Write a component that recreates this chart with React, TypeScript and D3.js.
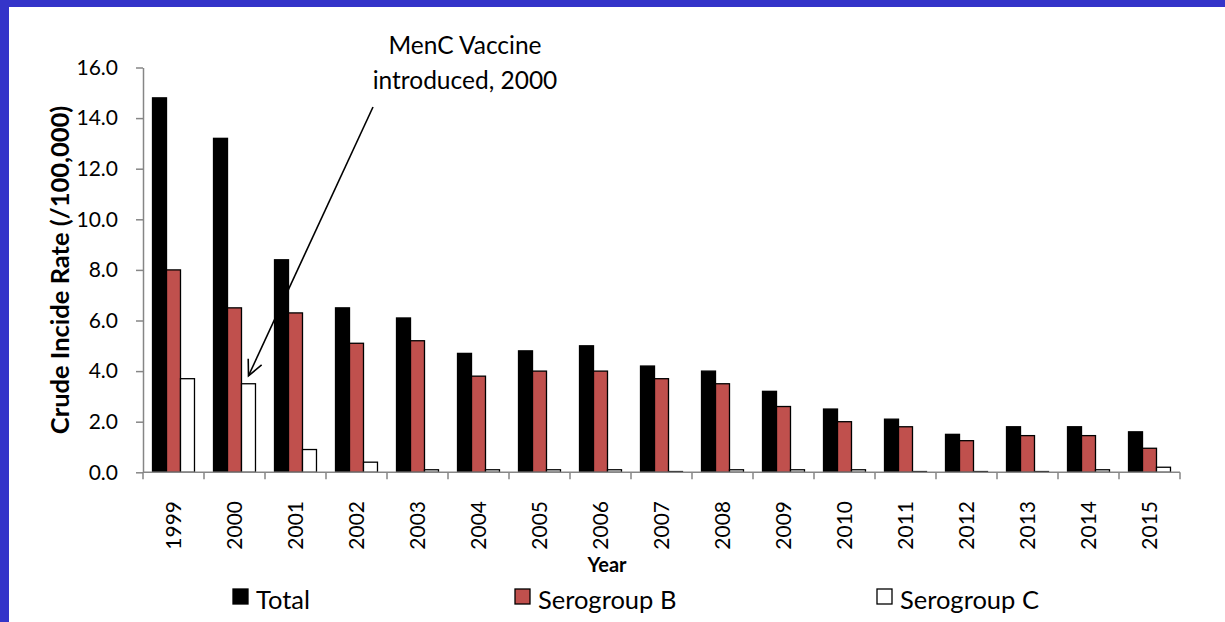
import React, { useEffect, useRef } from "react";
import * as d3 from "d3";

const years = ["1999", "2000", "2001", "2002", "2003", "2004", "2005", "2006", "2007", "2008", "2009", "2010", "2011", "2012", "2013", "2014", "2015"];
const seriesNames = ["Total", "Serogroup B", "Serogroup C"];
const totalRate = [14.8, 13.2, 8.4, 6.5, 6.1, 4.7, 4.8, 5.0, 4.2, 4.0, 3.2, 2.5, 2.1, 1.5, 1.8, 1.8, 1.6];
const serogroupB = [8.0, 6.5, 6.3, 5.1, 5.2, 3.8, 4.0, 4.0, 3.7, 3.5, 2.6, 2.0, 1.8, 1.25, 1.45, 1.45, 0.95];
const serogroupC = [3.7, 3.5, 0.9, 0.4, 0.1, 0.1, 0.1, 0.1, 0.03, 0.1, 0.1, 0.1, 0.03, 0.03, 0.03, 0.1, 0.2];
const yTicks = [0, 2, 4, 6, 8, 10, 12, 14, 16];
const colors = ["#000000", "#C0504D", "#FFFFFF"];

const W = 1225;
const H = 622;
const FONT = "Lato, 'Open Sans', sans-serif";

const App = () => {
  const svgRef = useRef<SVGSVGElement>(null);

  useEffect(() => {
    const svg = d3.select(svgRef.current);
    svg.selectAll("*").remove();

    // blue frame of the slide
    svg.append("rect").attr("width", W).attr("height", H).attr("fill", "#3434C9");
    svg.append("rect").attr("x", 9).attr("y", 7).attr("width", W - 9).attr("height", H - 7).attr("fill", "#fff");

    const left = 143, right = 1180, top = 67.5, bottom = 472.3;

    const x = d3.scaleBand().domain(years).range([left, right]).paddingInner(0).paddingOuter(0);
    const x1 = d3.scaleBand().domain(seriesNames).range([0, x.bandwidth()]).paddingInner(0).paddingOuter(0.68);
    const y = d3.scaleLinear().domain([0, 16]).range([bottom, top]);

    const rows = years.map((yr, i) => ({
      year: yr,
      values: [totalRate[i], serogroupB[i], serogroupC[i]],
    }));

    // bars
    const groups = svg
      .append("g")
      .selectAll("g")
      .data(rows)
      .enter()
      .append("g")
      .attr("transform", (d) => `translate(${x(d.year)},0)`);

    groups
      .selectAll("rect")
      .data((d) => d.values.map((v, k) => ({ v, k })))
      .enter()
      .append("rect")
      .attr("x", (d) => x1(seriesNames[d.k])!)
      .attr("width", x1.bandwidth())
      .attr("y", (d) => y(d.v))
      .attr("height", (d) => y(0) - y(d.v))
      .attr("fill", (d) => colors[d.k])
      .attr("stroke", "#000")
      .attr("stroke-width", 1.3);

    // y axis
    const yAxis = svg
      .append("g")
      .attr("transform", `translate(${left},0)`)
      .call(d3.axisLeft(y).tickValues(yTicks).tickFormat(d3.format(".1f")).tickSize(7).tickSizeOuter(0).tickPadding(18));
    yAxis.select(".domain").attr("stroke", "#868686").attr("stroke-width", 1.5);
    yAxis.selectAll(".tick line").attr("stroke", "#868686").attr("stroke-width", 1.5);
    yAxis.selectAll(".tick text").attr("font-family", FONT).attr("font-size", 21).attr("fill", "#000");

    // x axis
    const xAxis = svg.append("g");
    xAxis
      .append("line")
      .attr("x1", left)
      .attr("x2", right)
      .attr("y1", bottom)
      .attr("y2", bottom)
      .attr("stroke", "#868686")
      .attr("stroke-width", 1.5);
    const bounds = [...years.map((yr) => x(yr)!), right];
    xAxis
      .selectAll(".xt")
      .data(bounds)
      .enter()
      .append("line")
      .attr("x1", (d) => d)
      .attr("x2", (d) => d)
      .attr("y1", bottom)
      .attr("y2", bottom + 7)
      .attr("stroke", "#868686")
      .attr("stroke-width", 1.5);
    xAxis
      .selectAll(".xl")
      .data(years)
      .enter()
      .append("text")
      .attr("transform", (d) => `translate(${x(d)! + x.bandwidth() / 2},501) rotate(-90)`)
      .attr("text-anchor", "end")
      .attr("dy", "0.35em")
      .attr("font-family", FONT)
      .attr("font-size", 21)
      .text((d) => d);

    // axis titles
    svg
      .append("text")
      .attr("transform", `translate(60,${(top + bottom) / 2}) rotate(-90)`)
      .attr("text-anchor", "middle")
      .attr("dy", "0.35em")
      .attr("font-family", FONT)
      .attr("font-weight", "bold")
      .attr("font-size", 25.5)
      .text("Crude Incide Rate (/100,000)");
    svg
      .append("text")
      .attr("x", 607)
      .attr("y", 572)
      .attr("text-anchor", "middle")
      .attr("font-family", FONT)
      .attr("font-weight", "bold")
      .attr("font-size", 20)
      .text("Year");

    // legend
    const legendX = [233, 515, 877];
    const legend = svg
      .append("g")
      .selectAll("g")
      .data(seriesNames)
      .enter()
      .append("g")
      .attr("transform", (d, i) => `translate(${legendX[i]},589)`);
    legend
      .append("rect")
      .attr("width", 15)
      .attr("height", 15)
      .attr("fill", (d, i) => colors[i])
      .attr("stroke", "#000")
      .attr("stroke-width", 1.3);
    legend
      .append("text")
      .attr("x", 23)
      .attr("y", 20)
      .attr("font-family", FONT)
      .attr("font-size", 25.5)
      .text((d) => d);

    // annotation
    const note = svg.append("g").attr("font-family", FONT).attr("font-size", 24.5).attr("text-anchor", "middle");
    note.append("text").attr("x", 465).attr("y", 54).text("MenC Vaccine");
    note.append("text").attr("x", 465).attr("y", 89).text("introduced, 2000");

    const tipX = x("2000")! + x1("Serogroup C")! + x1.bandwidth() / 2;
    const tipY = y(serogroupC[1]) - 8;
    const startX = 373, startY = 107;
    svg
      .append("line")
      .attr("x1", startX)
      .attr("y1", startY)
      .attr("x2", tipX)
      .attr("y2", tipY)
      .attr("stroke", "#000")
      .attr("stroke-width", 1.6);
    const ang = Math.atan2(startY - tipY, startX - tipX);
    const armLen = 17, spread = 0.45;
    const arm = d3.line();
    svg
      .append("path")
      .attr(
        "d",
        arm([
          [tipX + armLen * Math.cos(ang - spread), tipY + armLen * Math.sin(ang - spread)],
          [tipX, tipY],
          [tipX + armLen * Math.cos(ang + spread), tipY + armLen * Math.sin(ang + spread)],
        ])
      )
      .attr("fill", "none")
      .attr("stroke", "#000")
      .attr("stroke-width", 1.6);
  }, []);

  return <svg ref={svgRef} width={W} height={H} style={{ position: "absolute", left: 0, top: 0, display: "block" }} />;
};

export default App;
